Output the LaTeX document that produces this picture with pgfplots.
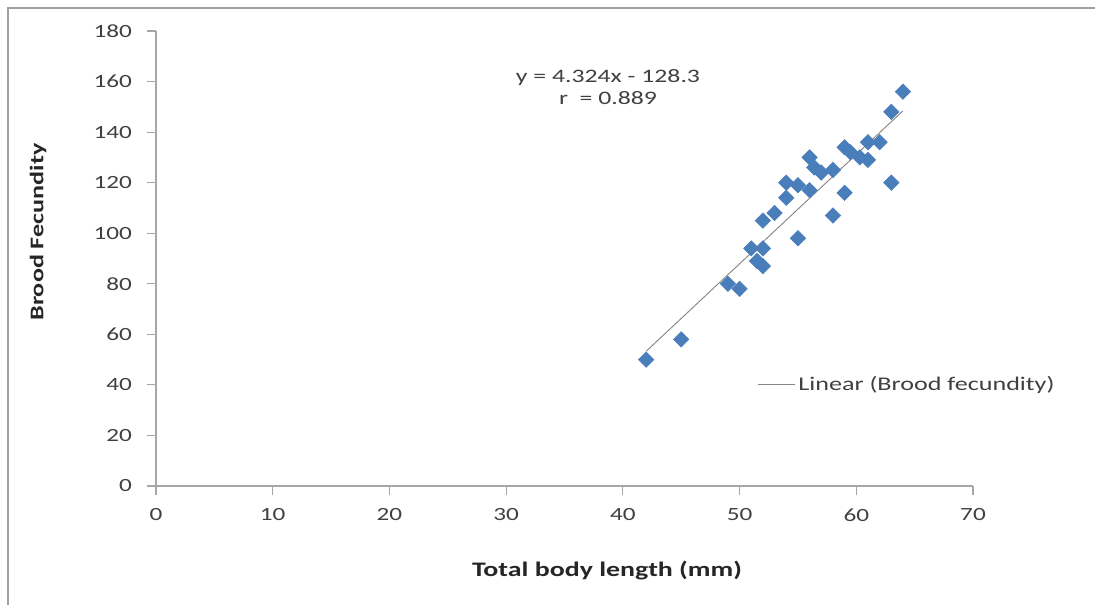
\documentclass[border=0pt]{standalone}
\usepackage{fontspec}
\setmainfont{Carlito}[FakeStretch=1.35]
\usepackage{pgfplots}
\pgfplotsset{compat=1.18}
\definecolor{excelblue}{HTML}{4A7EBB}
\definecolor{axisgray}{HTML}{A6A6A6}
\definecolor{labelgray}{HTML}{404040}
\definecolor{trendgray}{HTML}{8C8580}
\definecolor{framegray}{HTML}{A0A0A0}

\begin{document}
\begin{tikzpicture}
\begin{axis}[
    scale only axis, width=612.75pt, height=341.25pt,
    xmin=0, xmax=70, ymin=0, ymax=180,
    xtick={0,10,...,70}, ytick={0,20,...,180},
    axis x line=bottom, axis y line=left,
    axis line style={axisgray, -, line width=0.8pt},
    tick style={axisgray, line width=0.8pt},
    tick align=outside, major tick length=6.5pt,
    tick label style={font=\fontsize{14}{16}\selectfont, text=labelgray},
    xticklabel style={yshift=-7pt},
    yticklabel style={xshift=-8pt},
    /pgf/number format/assume math mode=true,
    xlabel={Total body length (mm)},
    ylabel={Brood Fecundity},
    label style={font=\bfseries\fontsize{15.5}{18}\selectfont, text=black!85},
    xlabel style={at={(axis description cs:0.552,-0.187)}, anchor=center},
    ylabel style={at={(axis description cs:-0.1444,0.558)}, anchor=center,
        font=\bfseries\fontsize{14.5}{18}\selectfont},
    legend style={at={(axis description cs:0.731,0.224)}, anchor=west,
        draw=none, fill=none, font=\fontsize{14.5}{16}\selectfont, text=labelgray},
    legend image code/.code={\draw[#1] (0pt,0pt) -- (28pt,0pt);},
]
\addplot[only marks, mark=square*, mark size=4.1pt,
    mark options={rotate=45, fill=excelblue, draw=excelblue}, forget plot]
table {
x y
42 50
45 58
49 80
50 78
51 94
51.5 89
52 94
52 87
52 105
53 108
54 114
54 120
55 119
55 98
56 117
56 130
56.4 126
57 124
58 125
58 107
59 116
59 134
59.5 132
60.3 130
61 136
61 129
62 136
63 148
63 120
64 156
};
\addplot[trendgray, line width=0.7pt] coordinates {(42,53.308) (64,148.436)};
\addlegendentry{Linear (Brood fecundity)}
\node[font=\fontsize{14.3}{17}\selectfont, text=labelgray, align=center]
    at (axis description cs:0.5532,0.877) {y = 4.324x - 128.3\\r~ = 0.889};
\end{axis}
\begin{scope}[x=0.75pt, y=-0.75pt, shift={(-117pt,364.5pt)}]
\draw[framegray, line width=1.2pt] (8,605) -- (8,8) -- (1095,8);
\pgfresetboundingbox
\useasboundingbox (0,0) rectangle (1095,605);
\end{scope}
\end{tikzpicture}
\end{document}
